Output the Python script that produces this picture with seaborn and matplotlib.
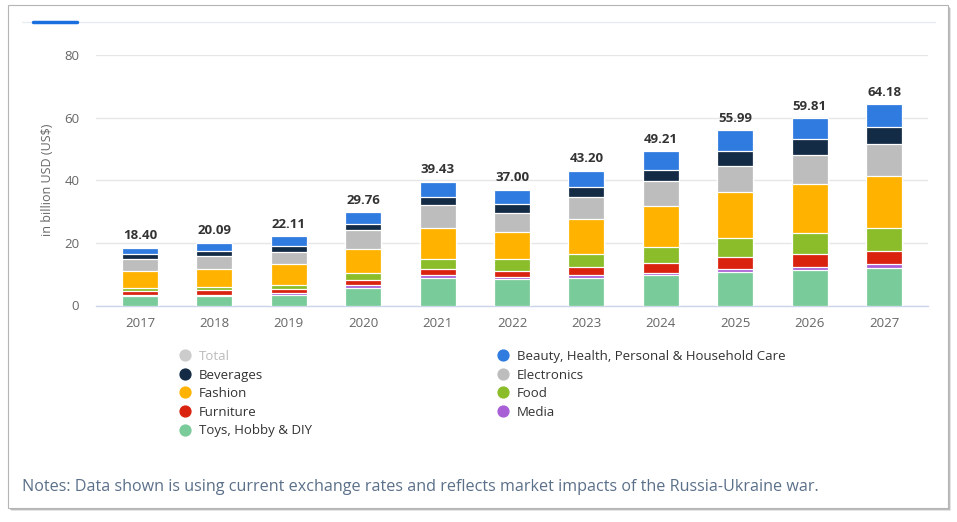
import matplotlib
matplotlib.use("Agg")
import matplotlib.pyplot as plt
from matplotlib.lines import Line2D
from matplotlib.patches import Rectangle
import seaborn as sns
import numpy as np
import pandas as pd

years = ["2017", "2018", "2019", "2020", "2021", "2022", "2023", "2024", "2025", "2026", "2027"]
totals = [18.40, 20.09, 22.11, 29.76, 39.43, 37.00, 43.20, 49.21, 55.99, 59.81, 64.18]

toys = [3.0, 3.1, 3.4, 5.5, 8.7, 8.4, 8.7, 9.8, 10.8, 11.4, 12.1]
media = [0.4, 0.4, 0.5, 0.9, 0.9, 0.8, 1.0, 0.7, 0.9, 0.9, 1.1]
furniture = [1.3, 1.5, 1.5, 1.7, 2.0, 1.9, 2.6, 3.2, 3.7, 4.2, 4.2]
food = [0.8, 0.9, 1.2, 2.4, 3.3, 3.7, 4.3, 5.1, 6.1, 6.6, 7.3]
fashion = [5.5, 5.8, 6.5, 7.6, 9.7, 8.6, 10.9, 13.0, 14.6, 15.7, 16.7]
electronics = [4.0, 4.1, 4.1, 6.0, 7.4, 6.3, 7.1, 7.9, 8.6, 9.3, 10.2]
beverages = [1.3, 1.5, 1.8, 2.0, 2.5, 2.8, 3.3, 3.7, 4.5, 5.1, 5.3]
beauty = [2.1, 2.8, 3.1, 3.7, 4.9, 4.5, 5.2, 5.8, 6.8, 6.6, 7.3]

series_names = ["Toys, Hobby & DIY", "Media", "Furniture", "Food", "Fashion",
                "Electronics", "Beverages", "Beauty, Health, Personal & Household Care"]
series_values = [toys, media, furniture, food, fashion, electronics, beverages, beauty]
series_colors = ["#7acb9a", "#a85fd6", "#d9230f", "#8bbd2a", "#ffb300",
                 "#bdbdbd", "#142b45", "#2f7be0"]

sns.set_theme(style="white")
plt.rcParams["font.family"] = ["Open Sans", "DejaVu Sans"]

W, H = 957, 522
fig = plt.figure(figsize=(W / 100, H / 100), dpi=100)
fig.patch.set_facecolor("white")

def fx(px):
    return px / W

def fy(py):
    return 1 - py / H

# card with shadow
for off, a in [(3, 0.10), (2, 0.18), (1, 0.30)]:
    fig.patches.append(Rectangle((fx(8 + off), fy(508 + off)), fx(940), 503 / H,
                                 transform=fig.transFigure, facecolor="#000000",
                                 alpha=a, edgecolor="none", zorder=0))
fig.patches.append(Rectangle((fx(8), fy(508)), fx(940), 503 / H, transform=fig.transFigure,
                             facecolor="white", edgecolor="#b5b5b5", lw=0.8, zorder=1))

# top tab line
fig.lines.append(Line2D([fx(22), fx(935)], [fy(22), fy(22)], transform=fig.transFigure,
                        color="#e8ecf2", lw=1, zorder=2))
fig.lines.append(Line2D([fx(33), fx(77)], [fy(22), fy(22)], transform=fig.transFigure,
                        color="#1a6fdf", lw=2.5, zorder=3))

ax = fig.add_axes([fx(96), fy(305.5), (928 - 96) / W, (305.5 - 55) / H])
ax.set_zorder(5)
ax.patch.set_alpha(0)

cum = np.cumsum(np.array(series_values), axis=0)
for k in range(len(series_names) - 1, -1, -1):
    df = pd.DataFrame({"year": years, "value": cum[k]})
    sns.barplot(data=df, x="year", y="value", color=series_colors[k], saturation=1,
                width=0.484, edgecolor="white", linewidth=0.9, ax=ax, zorder=3)

for i, t in enumerate(totals):
    ax.annotate(f"{t:.2f}", (i, t), xytext=(0, 4), textcoords="offset points",
                ha="center", va="bottom", fontsize=9.5, fontweight="bold", color="#333333")

ax.set_ylim(0, 80)
ax.set_xlim(-0.591, 10.59)
ax.set_yticks([0, 20, 40, 60, 80])
ax.yaxis.grid(True, color="#e6e6e6", lw=1)
ax.set_axisbelow(True)
for s in ["top", "right", "left"]:
    ax.spines[s].set_visible(False)
ax.spines["bottom"].set_color("#ccd6eb")
ax.spines["bottom"].set_linewidth(1)
ax.tick_params(axis="y", length=0, pad=12, labelsize=9.5, labelcolor="#666666")
ax.tick_params(axis="x", length=5, width=1, color="#ccd6eb", pad=3,
               labelsize=9.5, labelcolor="#666666")
ax.set_xlabel("")
ax.set_ylabel("in billion USD (US$)", fontsize=9, color="#666666", labelpad=7)

# legend
def handle(color):
    return Line2D([], [], marker="o", linestyle="none", markersize=7.8,
                  markerfacecolor=color, markeredgecolor=color)

col1 = [("Total", "#cccccc"), ("Beverages", series_colors[6]), ("Fashion", series_colors[4]),
        ("Furniture", series_colors[2]), ("Toys, Hobby & DIY", series_colors[0])]
col2 = [(series_names[7], series_colors[7]), ("Electronics", series_colors[5]),
        ("Food", series_colors[3]), ("Media", series_colors[1])]

for col, xpx in [(col1, 178), (col2, 496)]:
    leg = fig.legend([handle(c) for _, c in col], [n for n, _ in col],
                     loc="upper left", bbox_to_anchor=(fx(xpx), fy(350)),
                     frameon=False, fontsize=9.5, handlelength=1.0, handletextpad=0.6,
                     labelspacing=0.42, borderpad=0, borderaxespad=0)
    for txt, (n, _) in zip(leg.get_texts(), col):
        txt.set_color("#bbbbbb" if n == "Total" else "#333333")
    leg.set_zorder(6)

fig.text(fx(22), fy(487), "Notes: Data shown is using current exchange rates and reflects "
         "market impacts of the Russia-Ukraine war.", fontsize=11.6, color="#5b7089",
         ha="left", va="center", zorder=6)

fig.savefig("out.png", dpi=100, facecolor="white")
